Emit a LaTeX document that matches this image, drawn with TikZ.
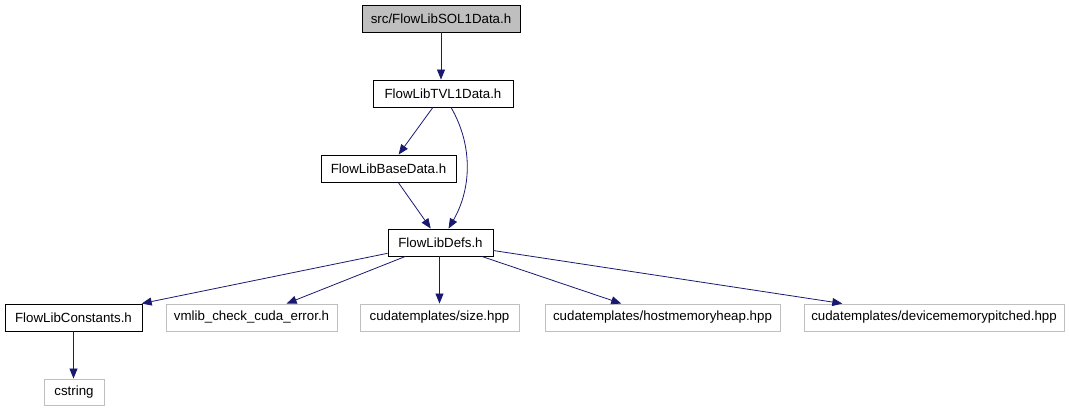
\documentclass[tikz,border=0pt]{standalone}
\usepackage{fontspec}
\setmainfont{Liberation Sans}
\usetikzlibrary{arrows.meta,calc}
\definecolor{edgeblue}{HTML}{191970}
\definecolor{boxgray}{HTML}{BFBFBF}
\tikzset{
  box/.style={draw=black, line width=0.9pt, minimum height=27pt, inner sep=0pt, font=\fontsize{13.3}{16}\selectfont, fill=white},
  topbox/.style={box, fill=boxgray},
  extbox/.style={box, draw=boxgray},
  dep/.style={draw=edgeblue, line width=0.8pt, -{Triangle[length=10pt,width=8pt]}, color=edgeblue}
}
\begin{document}
\begin{tikzpicture}[x=1pt,y=1pt]
\useasboundingbox (0,0) rectangle (1069,-411);
\node[topbox, minimum width=158pt] (sol) at (441,-18.5) {src/FlowLibSOL1Data.h};
\node[box, minimum width=140pt] (tvl) at (443,-93.5) {FlowLibTVL1Data.h};
\node[box, minimum width=135pt] (base) at (388.5,-168.5) {FlowLibBaseData.h};
\node[box, minimum width=105pt] (defs) at (440.5,-242.5) {FlowLibDefs.h};
\node[box, minimum width=137pt] (const) at (73.5,-317.5) {FlowLibConstants.h};
\node[extbox, minimum width=171pt] (vm) at (251.5,-317.5) {vmlib\_check\_cuda\_error.h};
\node[extbox, minimum width=159pt] (size) at (439.5,-317.5) {cudatemplates/size.hpp};
\node[extbox, minimum width=235pt] (host) at (662.5,-317.5) {cudatemplates/hostmemoryheap.hpp};
\node[extbox, minimum width=260pt] (dev) at (934,-317.5) {cudatemplates/devicememorypitched.hpp};
\node[extbox, minimum width=60pt, minimum height=26pt] (cstr) at (74,-392) {cstring};

\draw[dep] (sol) -- (sol |- tvl.north);
\draw[dep] (tvl) -- (base);
\draw[dep] (tvl) to[out=-60,in=60,looseness=0.95] (defs);
\draw[dep] (base) to[out=-55,in=125,looseness=0.3] (defs);
\draw[dep] (defs) -- (const);
\draw[dep] (defs) -- (vm);
\draw[dep] (defs.south -| size) -- (size);
\draw[dep] (defs) -- (host);
\draw[dep] (defs) -- (dev);
\draw[dep] (const) -- (const |- cstr.north);
\end{tikzpicture}
\end{document}
